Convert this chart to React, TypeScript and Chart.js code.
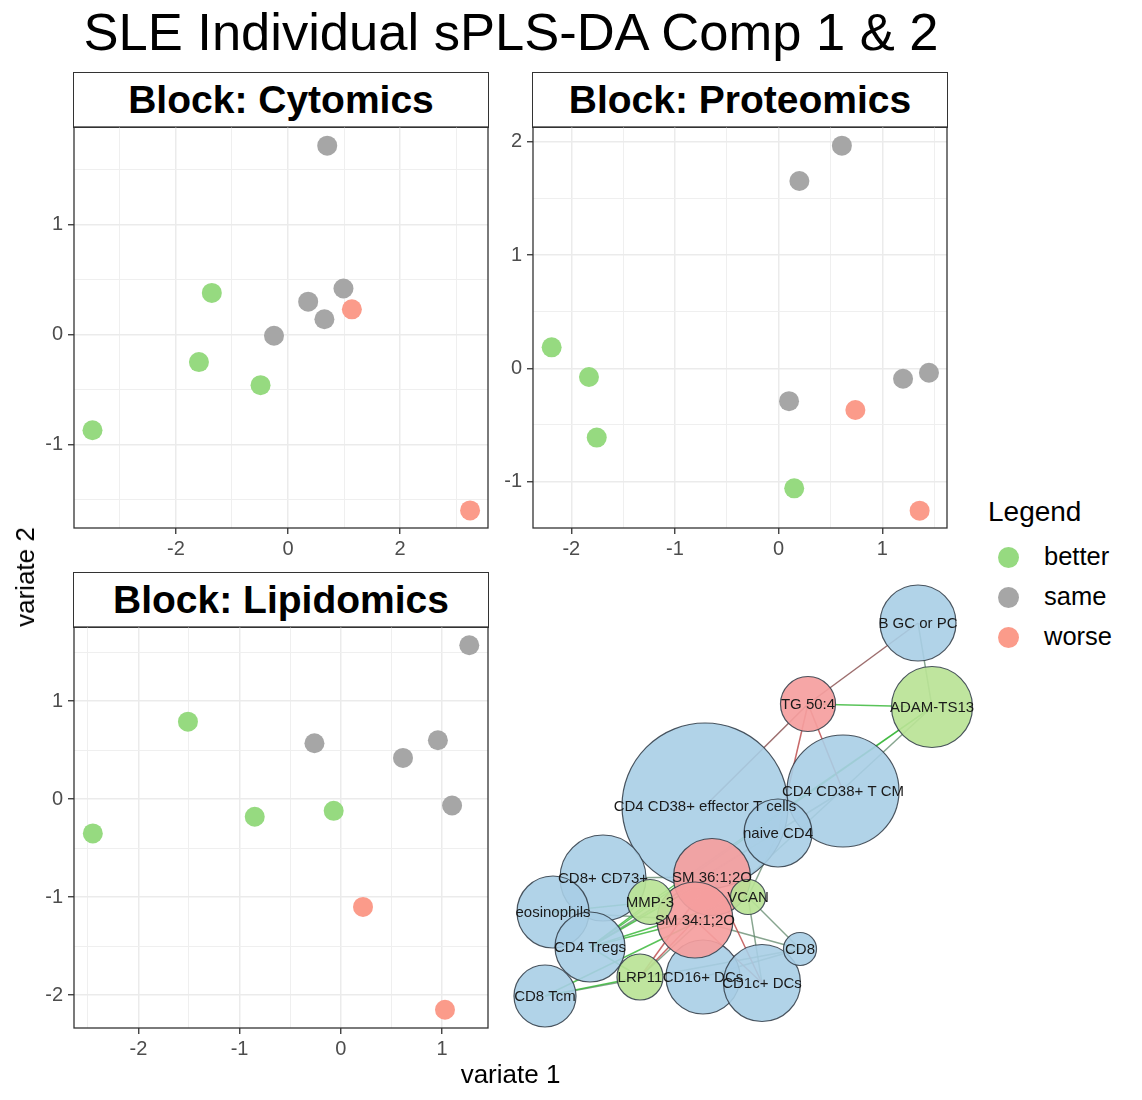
import React, { useEffect, useRef } from 'react';
import { Chart, registerables } from 'chart.js';

Chart.register(...registerables);

const FONT = "'Liberation Sans', Arial, Helvetica, sans-serif";

// ---------- scatter data ----------
const groups = ['better', 'same', 'worse'];
const groupColors = ['#96DA80', '#A6A6A6', '#FB9B8A'];

const cytoX = [0.70, -1.36, 0.99, 0.36, 1.14, 0.65, -0.25, -1.59, -0.49, -3.49, 3.25];
const cytoY = [1.72, 0.38, 0.42, 0.30, 0.23, 0.14, -0.01, -0.25, -0.46, -0.87, -1.60];
const cytoG = ['same', 'better', 'same', 'same', 'worse', 'same', 'same', 'better', 'better', 'better', 'worse'];
const cytoXRange = [-3.82, 3.57];
const cytoYRange = [-1.76, 1.89];
const cytoXTicks = [-2, 0, 2];
const cytoYTicks = [-1, 0, 1];

const protX = [0.61, 0.20, -2.19, -1.83, -1.755, 0.10, 0.74, 1.20, 1.45, 0.15, 1.36];
const protY = [1.965, 1.653, 0.185, -0.077, -0.612, -0.29, -0.368, -0.092, -0.039, -1.06, -1.257];
const protG = ['same', 'same', 'better', 'better', 'better', 'same', 'worse', 'same', 'same', 'better', 'worse'];
const protXRange = [-2.37, 1.624];
const protYRange = [-1.41, 2.13];
const protXTicks = [-2, -1, 0, 1];
const protYTicks = [-1, 0, 1, 2];

const lipX = [1.27, -1.51, -0.26, 0.96, 0.615, 1.10, -0.07, -0.85, -2.45, 0.22, 1.03];
const lipY = [1.57, 0.79, 0.57, 0.60, 0.42, -0.065, -0.12, -0.18, -0.35, -1.10, -2.15];
const lipG = ['same', 'better', 'same', 'same', 'same', 'same', 'better', 'better', 'better', 'worse', 'worse'];
const lipXRange = [-2.636, 1.455];
const lipYRange = [-2.336, 1.756];
const lipXTicks = [-2, -1, 0, 1];
const lipYTicks = [-2, -1, 0, 1];

// ---------- network data ----------
const nodeNames = [
  'CD4 CD38+ effector T cells', 'CD4 CD38+ T CM', 'naive CD4', 'B GC or PC', 'CD8+ CD73+',
  'eosinophils', 'CD4 Tregs', 'CD8 Tcm', 'CD16+ DCs', 'CD1c+ DCs', 'CD8',
  'ADAM-TS13', 'TG 50:4', 'SM 36:1;2O', 'SM 34:1;2O', 'MMP-3', 'VCAN', 'LRP11',
];
const nodeX = [205, 343, 278, 418, 103, 53, 90, 45, 203, 262, 300, 432, 308, 212, 195, 150, 248, 140];
const nodeY = [236, 221, 263, 53, 308, 342, 377, 426, 407, 413, 379, 137, 134, 307, 350, 332, 327, 407];
const nodeSize = [83, 56, 34, 38, 43, 36, 35, 31, 37, 38.5, 16.5, 40.5, 27.5, 38.5, 38, 22.5, 17.5, 23];
const nodeBlock = [
  'cell', 'cell', 'cell', 'cell', 'cell', 'cell', 'cell', 'cell', 'cell', 'cell', 'cell',
  'protein', 'lipid', 'lipid', 'lipid', 'protein', 'protein', 'protein',
];
const blockFill: Record<string, string> = {
  cell: 'rgba(168,206,230,0.9)',
  protein: 'rgba(186,227,150,0.92)',
  lipid: 'rgba(245,158,158,0.92)',
};

const edgeFrom = [
  'B GC or PC', 'B GC or PC', 'TG 50:4', 'TG 50:4', 'TG 50:4', 'TG 50:4',
  'ADAM-TS13', 'ADAM-TS13', 'ADAM-TS13', 'CD8+ CD73+', 'MMP-3', 'MMP-3',
  'LRP11', 'LRP11', 'LRP11', 'LRP11', 'SM 34:1;2O', 'SM 36:1;2O', 'VCAN', 'VCAN',
  'SM 34:1;2O', 'CD8 Tcm', 'eosinophils', 'CD4 Tregs', 'CD4 Tregs', 'naive CD4',
  'CD4 CD38+ T CM', 'CD8 Tcm', 'CD4 Tregs', 'CD16+ DCs',
];
const edgeTo = [
  'TG 50:4', 'ADAM-TS13', 'ADAM-TS13', 'CD4 CD38+ effector T cells', 'naive CD4', 'CD4 CD38+ T CM',
  'MMP-3', 'CD4 Tregs', 'LRP11', 'SM 36:1;2O', 'CD4 Tregs', 'eosinophils',
  'CD8 Tcm', 'CD4 Tregs', 'SM 34:1;2O', 'SM 36:1;2O', 'CD1c+ DCs', 'CD1c+ DCs', 'CD8', 'CD1c+ DCs',
  'CD8', 'CD8', 'SM 34:1;2O', 'SM 36:1;2O', 'VCAN', 'VCAN',
  'CD4 Tregs', 'VCAN', 'SM 34:1;2O', 'CD8',
];
const edgeKind = [
  'brown', 'grey', 'green', 'brown', 'red', 'red',
  'green', 'green', 'grey', 'grey', 'green', 'green',
  'green', 'green', 'red', 'red', 'red', 'red', 'grey', 'grey',
  'grey', 'grey', 'grey', 'green', 'green', 'grey',
  'grey', 'green', 'green', 'grey',
];
const edgeColors: Record<string, string> = {
  green: 'rgba(60,185,60,0.85)',
  red: 'rgba(190,80,80,0.85)',
  brown: 'rgba(140,85,85,0.85)',
  grey: 'rgba(95,135,105,0.75)',
};

// ---------- helpers ----------
const near = (v: number, arr: number[]) => arr.some((m) => Math.abs(m - v) < 1e-6);

const panelBorderPlugin = {
  id: 'panelBorder',
  afterDraw(chart: any) {
    const { ctx, chartArea: a } = chart;
    ctx.save();
    ctx.strokeStyle = '#333333';
    ctx.lineWidth = 1.3;
    ctx.strokeRect(a.left, a.top, a.right - a.left, a.bottom - a.top);
    ctx.restore();
  },
};

type PanelProps = {
  left: number;
  top: number;
  xs: number[];
  ys: number[];
  gs: string[];
  xRange: number[];
  yRange: number[];
  xTicks: number[];
  yTicks: number[];
  xStep: number;
  yStep: number;
};

const PW = 60 + 414 + 5;
const PH = 5 + 401 + 45;

function ScatterPanel(p: PanelProps) {
  const ref = useRef<HTMLCanvasElement>(null);
  useEffect(() => {
    if (!ref.current) return;
    const axis = (range: number[], ticks: number[], step: number, isX: boolean) => ({
      type: 'linear',
      min: range[0],
      max: range[1],
      afterFit: (s: any) => {
        if (isX) s.height = 45;
        else s.width = 60;
        s.paddingTop = 0;
        s.paddingBottom = 0;
        s.paddingLeft = 0;
        s.paddingRight = 0;
      },
      border: { display: false },
      grid: {
        color: (c: any) => (c.tick && near(c.tick.value, ticks) ? '#EBEBEB' : '#EFEFEF'),
        lineWidth: (c: any) => (c.tick && near(c.tick.value, ticks) ? 1.5 : 1),
        tickColor: (c: any) => (c.tick && near(c.tick.value, ticks) ? '#333333' : 'rgba(0,0,0,0)'),
        tickWidth: 1.3,
        tickLength: 6,
        drawTicks: true,
      },
      ticks: {
        stepSize: step,
        includeBounds: false,
        autoSkip: false,
        maxRotation: 0,
        minRotation: 0,
        maxTicksLimit: 30,
        padding: isX ? 3 : 5,
        color: '#4D4D4D',
        font: { family: FONT, size: 20 },
        callback: (v: number) => (near(v, ticks) ? String(Math.round(v)) : ''),
      },
    });
    const chart = new Chart(ref.current, {
      type: 'scatter',
      data: {
        datasets: [
          {
            data: p.xs.map((x, i) => ({ x, y: p.ys[i] })),
            backgroundColor: p.gs.map((g) => groupColors[groups.indexOf(g)]),
            borderWidth: 0,
            pointRadius: 10,
            pointHoverRadius: 10,
          },
        ],
      },
      options: {
        responsive: false,
        animation: false,
        events: [],
        layout: { padding: { left: 0, top: 5, right: 5, bottom: 0 }, autoPadding: false } as any,
        plugins: { legend: { display: false }, tooltip: { enabled: false }, title: { display: false } },
        scales: {
          x: axis(p.xRange, p.xTicks, p.xStep, true) as any,
          y: axis(p.yRange, p.yTicks, p.yStep, false) as any,
        },
      },
      plugins: [panelBorderPlugin],
    });
    return () => chart.destroy();
  }, []);
  return (
    <canvas
      ref={ref}
      width={PW}
      height={PH}
      style={{ position: 'absolute', left: p.left - 60, top: p.top - 5, width: PW, height: PH }}
    />
  );
}

const NW = 490;
const NH = 470;

function NetworkPanel() {
  const ref = useRef<HTMLCanvasElement>(null);
  useEffect(() => {
    if (!ref.current) return;
    const idx = (n: string) => nodeNames.indexOf(n);
    const edgeSets = edgeFrom.map((f, i) => {
      const a = idx(f);
      const b = idx(edgeTo[i]);
      return {
        type: 'scatter' as const,
        data: [
          { x: nodeX[a], y: nodeY[a] },
          { x: nodeX[b], y: nodeY[b] },
        ],
        showLine: true,
        borderColor: edgeColors[edgeKind[i]],
        borderWidth: 1.5,
        pointRadius: 0,
        pointHoverRadius: 0,
        order: 1,
      };
    });
    const labelPlugin = {
      id: 'nodeLabels',
      afterDatasetsDraw(chart: any) {
        const meta = chart.getDatasetMeta(0);
        const ctx = chart.ctx;
        ctx.save();
        ctx.font = `15px ${FONT}`;
        ctx.fillStyle = '#1A1A1A';
        ctx.textAlign = 'center';
        ctx.textBaseline = 'middle';
        meta.data.forEach((el: any, i: number) => {
          ctx.fillText(nodeNames[i], el.x, el.y + 1);
        });
        ctx.restore();
      },
    };
    const chart = new Chart(ref.current, {
      type: 'scatter',
      data: {
        datasets: [
          {
            type: 'bubble',
            data: nodeNames.map((_, i) => ({ x: nodeX[i], y: nodeY[i], r: nodeSize[i] })),
            backgroundColor: nodeBlock.map((b) => blockFill[b]),
            borderColor: 'rgba(55,66,78,0.9)',
            borderWidth: 1.2,
            hoverRadius: 0,
            order: 0,
          } as any,
          ...edgeSets,
        ],
      },
      options: {
        responsive: false,
        animation: false,
        events: [],
        layout: { padding: 0, autoPadding: false } as any,
        plugins: { legend: { display: false }, tooltip: { enabled: false } },
        scales: {
          x: { type: 'linear', min: 0, max: NW, display: false },
          y: { type: 'linear', min: 0, max: NH, reverse: true, display: false },
        },
      },
      plugins: [labelPlugin],
    });
    return () => chart.destroy();
  }, []);
  return (
    <canvas
      ref={ref}
      width={NW}
      height={NH}
      style={{ position: 'absolute', left: 500, top: 570, width: NW, height: NH }}
    />
  );
}

function Txt(props: {
  x: number;
  baseline: number;
  size: number;
  text: string;
  anchor?: 'start' | 'center';
  weight?: number;
  color?: string;
}) {
  const { x, baseline, size, text, anchor = 'center', weight = 400, color = '#000' } = props;
  return (
    <div
      style={{
        position: 'absolute',
        left: x,
        top: baseline - size * 0.8465,
        fontSize: size,
        lineHeight: `${size}px`,
        fontWeight: weight,
        color,
        whiteSpace: 'nowrap',
        transform: anchor === 'center' ? 'translateX(-50%)' : undefined,
      }}
    >
      {text}
    </div>
  );
}

function Strip({ left, top, text }: { left: number; top: number; text: string }) {
  return (
    <div
      style={{
        position: 'absolute',
        left: left - 0.65,
        top,
        width: 415.3,
        height: 55.6,
        boxSizing: 'border-box',
        border: '1.3px solid #333333',
        background: '#fff',
        display: 'flex',
        alignItems: 'center',
        justifyContent: 'center',
        fontSize: 39,
        lineHeight: '39px',
        fontWeight: 700,
        color: '#000',
        whiteSpace: 'nowrap',
      }}
    >
      {text}
    </div>
  );
}

export default function App() {
  return (
    <div
      style={{
        position: 'fixed',
        left: 0,
        top: 0,
        width: 1142,
        height: 1100,
        background: '#ffffff',
        fontFamily: FONT,
        overflow: 'hidden',
      }}
    >
      <Txt x={511} baseline={50} size={52.5} text="SLE Individual sPLS-DA Comp 1 & 2" />

      <Strip left={74} top={72} text="Block: Cytomics" />
      <Strip left={533} top={72} text="Block: Proteomics" />
      <Strip left={74} top={572} text="Block: Lipidomics" />

      <ScatterPanel left={74} top={127} xs={cytoX} ys={cytoY} gs={cytoG} xRange={cytoXRange} yRange={cytoYRange}
        xTicks={cytoXTicks} yTicks={cytoYTicks} xStep={1} yStep={0.5} />
      <ScatterPanel left={533} top={127} xs={protX} ys={protY} gs={protG} xRange={protXRange} yRange={protYRange}
        xTicks={protXTicks} yTicks={protYTicks} xStep={0.5} yStep={0.5} />
      <ScatterPanel left={74} top={627} xs={lipX} ys={lipY} gs={lipG} xRange={lipXRange} yRange={lipYRange}
        xTicks={lipXTicks} yTicks={lipYTicks} xStep={0.5} yStep={0.5} />

      <NetworkPanel />

      <Txt x={510.5} baseline={1083} size={26} text="variate 1" />
      <div
        style={{
          position: 'absolute',
          left: 25,
          top: 577,
          fontSize: 26,
          lineHeight: '26px',
          whiteSpace: 'nowrap',
          transform: 'translate(-50%, -50%) rotate(-90deg)',
          color: '#000',
        }}
      >
        variate 2
      </div>

      <Txt x={988} baseline={522} size={28} text="Legend" anchor="start" />
      {groups.map((g, i) => (
        <React.Fragment key={g}>
          <div
            style={{
              position: 'absolute',
              left: 1008.5 - 10.5,
              top: 557.7 + i * 40 - 10.5,
              width: 21,
              height: 21,
              borderRadius: '50%',
              background: groupColors[i],
            }}
          />
          <Txt x={1044} baseline={566 + i * 40} size={25.5} text={g} anchor="start" />
        </React.Fragment>
      ))}
    </div>
  );
}
